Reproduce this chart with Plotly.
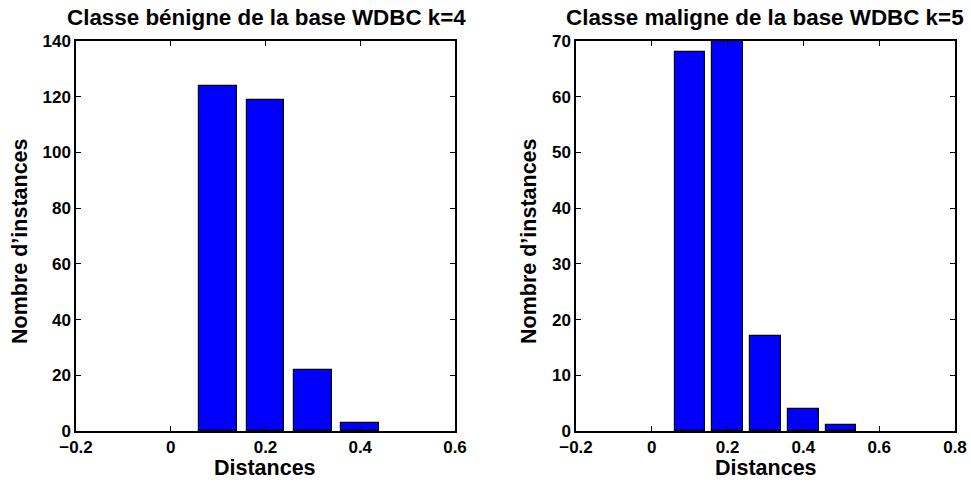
import plotly.graph_objects as go

# Data
dist_benign = [0.1, 0.2, 0.3, 0.4]
count_benign = [124, 119, 22, 3]
dist_malign = [0.1, 0.2, 0.3, 0.4, 0.5]
count_malign = [68, 70, 17, 4, 1]
title_left = "Classe bénigne de la base WDBC k=4"
title_right = "Classe maligne de la base WDBC k=5"
xlabel = "Distances"
ylabel = "Nombre d’instances"
ytick_left = [0, 20, 40, 60, 80, 100, 120, 140]
ytick_right = [0, 10, 20, 30, 40, 50, 60, 70]
xtick_left = [-0.2, 0, 0.2, 0.4, 0.6]
xtick_right = [-0.2, 0, 0.2, 0.4, 0.6, 0.8]

W, H = 971, 486
FONT = "Liberation Sans, Arial, Helvetica, sans-serif"

fig = go.Figure()
fig.add_trace(go.Bar(x=dist_benign, y=count_benign, width=0.08, xaxis="x", yaxis="y",
                     marker=dict(color="#0000FF", line=dict(color="black", width=1.2)),
                     showlegend=False))
fig.add_trace(go.Bar(x=dist_malign, y=count_malign, width=0.08, xaxis="x2", yaxis="y2",
                     marker=dict(color="#0000FF", line=dict(color="black", width=1.2)),
                     showlegend=False))

def ax(**kw):
    d = dict(showline=True, linecolor="black", linewidth=1.5, mirror="allticks",
             ticks="inside", ticklen=5, tickcolor="black", tickwidth=1,
             showgrid=False, zeroline=False, automargin=False,
             tickfont=dict(family=FONT, size=17, color="black", weight="bold"))
    d.update(kw)
    return d

L1, R1 = 76 / W, 455 / W
L2, R2 = 576 / W, 955 / W
B, T = 1 - 431 / H, 1 - 41 / H

lab = dict(family=FONT, size=21.5, color="black", weight="bold")
ttl = dict(family=FONT, size=22.4, color="black", weight="bold")

def ann(text, xpx, ypx, font, angle=0):
    return dict(text=text, x=xpx / W, y=1 - ypx / H, xref="paper", yref="paper",
                showarrow=False, xanchor="center", yanchor="middle", textangle=angle,
                font=font)

fig.update_layout(
    width=W, height=H, margin=dict(l=0, r=0, t=0, b=0),
    paper_bgcolor="white", plot_bgcolor="white",
    bargap=0,
    xaxis=ax(domain=[L1, R1], range=[-0.2, 0.6], tickvals=xtick_left,
             ticktext=["−0.2", "0", "0.2", "0.4", "0.6"], anchor="y"),
    yaxis=ax(domain=[B, T], range=[0, 140], tickvals=ytick_left, anchor="x"),
    xaxis2=ax(domain=[L2, R2], range=[-0.2, 0.8], tickvals=xtick_right,
              ticktext=["−0.2", "0", "0.2", "0.4", "0.6", "0.8"], anchor="y2"),
    yaxis2=ax(domain=[B, T], range=[0, 70], tickvals=ytick_right, anchor="x2"),
    annotations=[
        ann(title_left, 266, 18, ttl),
        ann(title_right, 765, 18, ttl),
        ann(xlabel, 265, 468, lab),
        ann(xlabel, 766, 468, lab),
        ann(ylabel, 20, 241, lab, -90),
        ann(ylabel, 529, 241, lab, -90),
    ],
)

fig.write_html("out.html")
